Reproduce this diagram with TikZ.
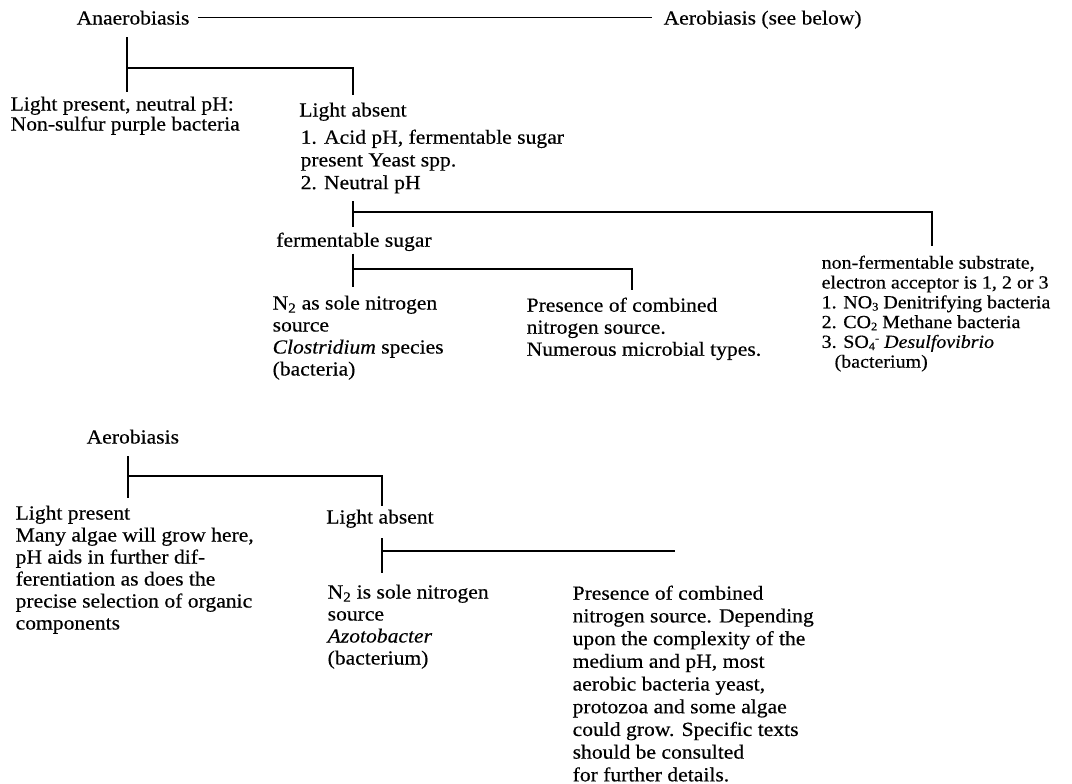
\documentclass[tikz,border=0pt]{standalone}
\usepackage{fontspec}
\setmainfont{Liberation Serif}[FakeStretch=1.08, FakeBold=0.4]
\usetikzlibrary{calc}
\newcommand{\lowsub}[1]{\raisebox{-0.12em}{\fontsize{11.5}{11.5}\selectfont #1}}
\newcommand{\ionmark}{\raisebox{0.32em}{\fontsize{11.5}{11.5}\selectfont -}}

\begin{document}
\begin{tikzpicture}[x=1pt, y=-1pt, line width=1.3pt,
  every node/.style={inner sep=0pt, align=left, anchor=north west, font=\fontsize{20}{22}\selectfont},
  wide/.style={font=\fontsize{20}{22.7}\selectfont},
  tight/.style={font=\fontsize{18.5}{19.8}\selectfont}]
  \useasboundingbox (0,0) rectangle (1072,784);

  \node (anaer) at (76,10) {Anaerobiasis};
  \node (aerosee) at (663,10) {Aerobiasis (see below)};
  \draw[shorten <=8pt, shorten >=11pt] (anaer.east) -- (anaer.east -| aerosee.west);

  \coordinate (j0) at (127,68);
  \coordinate (j1) at (353,212);
  \coordinate (j2) at (932,212);
  \coordinate (j3) at (353,269);
  \coordinate (j4) at (632,269);

  \node[font=\fontsize{20}{20}\selectfont] (lpres) at (10,96) {Light present, neutral pH:\\Non-sulfur purple bacteria};
  \node[anchor=north] (labs) at (353,102) {Light absent};
  \node[wide] (acid) at (300,129) {1. Acid pH, fermentable sugar\\present Yeast spp.\\2. Neutral pH};
  \node[anchor=north] (ferm) at (354,232) {fermentable sugar};
  \node (nsole) at (272,295) {N\textsubscript{2} as sole nitrogen\\source\\\textit{Clostridium} species\\(bacteria)};
  \node (pres) at (526,297) {Presence of combined\\nitrogen source.\\Numerous microbial types.};
  \node[tight] (nonf) at (821,255) {non-fermentable substrate,\\electron acceptor is 1, 2 or 3\\1. NO\lowsub{3} Denitrifying bacteria\\2. CO\lowsub{2} Methane bacteria\\3. SO\lowsub{4}\ionmark{} \textit{Desulfovibrio}\\\hspace{0.7em}(bacterium)};

  \draw[shorten <=12pt, shorten >=4pt] (anaer.south -| j0) -- (lpres.north -| j0);
  \draw[shorten >=7pt] (j0) -| (labs.north);
  \draw[shorten <=7pt, shorten >=5pt] (acid.south -| j1) -- (ferm.north -| j1);
  \draw[shorten >=9pt] (j1) -- (j2) -- (j2 |- nonf.north);
  \draw[shorten <=2pt, shorten >=8pt] (ferm.south -| j3) -- (nsole.north -| j3);
  \draw[shorten >=7pt] (j3) -- (j4) -- (j4 |- pres.north);

  \node (aero) at (86,429) {Aerobiasis};
  \coordinate (k0) at (128,476);
  \coordinate (k1) at (382,551);
  \coordinate (k2) at (675,551);

  \node (lpres2) at (15,505) {Light present\\Many algae will grow here,\\pH aids in further dif-\\ferentiation as does the\\precise selection of organic\\components};
  \node[anchor=north] (labs2) at (380,509) {Light absent};
  \node (nsole2) at (327,584) {N\textsubscript{2} is sole nitrogen\\source\\\textit{Azotobacter}\\(bacterium)};
  \node[wide] (pres2) at (572,585) {Presence of combined\\nitrogen source. Depending\\upon the complexity of the\\medium and pH, most\\aerobic bacteria yeast,\\protozoa and some algae\\could grow. Specific texts\\should be consulted\\for further details.};

  \draw[shorten <=12pt, shorten >=7pt] (aero.south -| k0) -- (lpres2.north -| k0);
  \draw[shorten >=3pt] (k0) -| (labs2.north -| k1);
  \draw[shorten <=10pt, shorten >=11pt] (labs2.south -| k1) -- (nsole2.north -| k1);
  \draw (k1) -- (k2);
\end{tikzpicture}
\end{document}
